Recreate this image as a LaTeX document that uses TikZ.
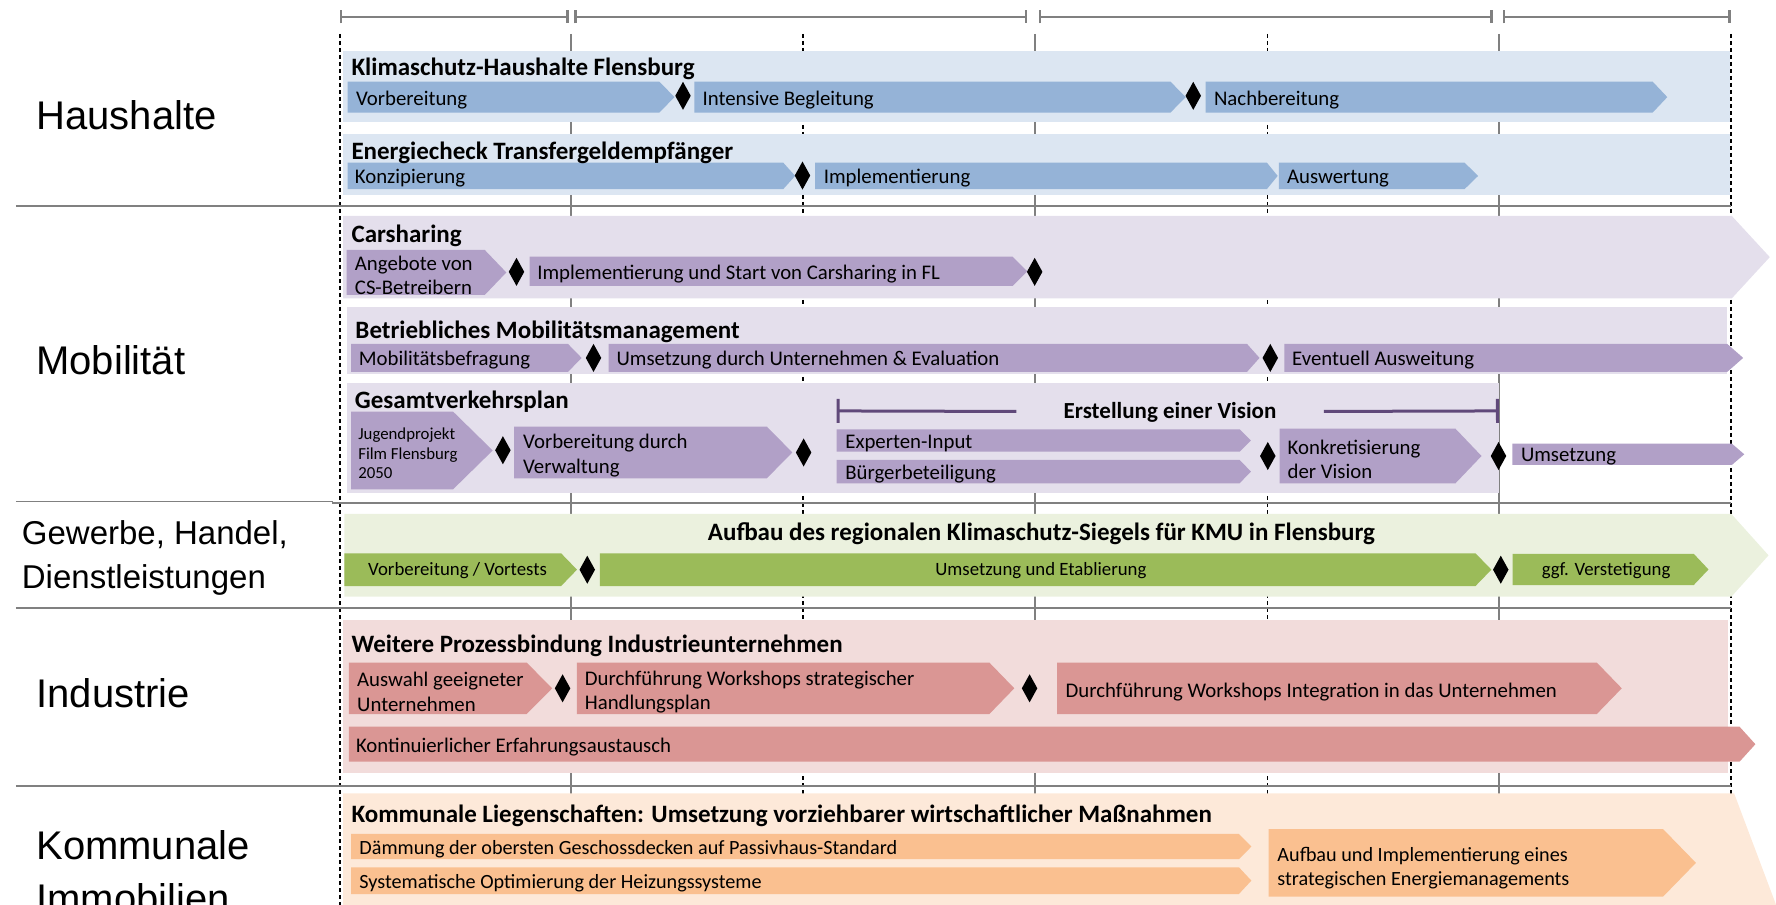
\documentclass[tikz,border=0pt]{standalone}
\usepackage{fontspec}
\setmainfont{Carlito}
\newfontfamily\labelfont{Liberation Sans}
\usetikzlibrary{
    arrows.meta,
    shapes.geometric
}
\definecolor{hhback}{HTML}{DCE6F2}
\definecolor{hhbar}{HTML}{95B3D7}
\definecolor{mobback}{HTML}{E4DFEC}
\definecolor{mobbar}{HTML}{B1A0C7}
\definecolor{mobline}{HTML}{60497A}
\definecolor{gewback}{HTML}{EBF1DE}
\definecolor{gewbar}{HTML}{9BBB59}
\definecolor{indback}{HTML}{F2DCDB}
\definecolor{indbar}{HTML}{DA9694}
\definecolor{komback}{HTML}{FDE9D9}
\definecolor{kombar}{HTML}{FAC090}
\definecolor{gridgray}{HTML}{808080}
\tikzset{
    % Lines
    grid line/.style={gridgray, line width=1pt},
    grid dash/.style={black, line width=0.9pt, dash pattern=on 2.2pt off 1.3pt},
    separator/.style={gridgray, line width=1.1pt},
    ruler/.style={gridgray, line width=1.2pt, {Bar[width=6.5pt]}-{Bar[width=6.5pt]}},
    vision line/.style={mobline, line width=1.5pt},
    %
    % Nodes
    sector/.style={font=\labelfont\fontsize{20}{26.8}\selectfont, inner sep=0pt, align=left},
    band title/.style={font=\bfseries\fontsize{12.5}{15}\selectfont, anchor=west, inner sep=0pt, yshift=-1.1pt},
    bar text/.style={font=\fontsize{10.4}{12.2}\selectfont, anchor=west, inner sep=0pt, align=left, yshift=-1.3pt},
    small text/.style={bar text, font=\fontsize{8.4}{9.9}\selectfont},
    green text/.style={bar text, anchor=center, font=\fontsize{9.4}{11}\selectfont, yshift=0.7pt},
    milestone/.style={diamond, fill=black, inner sep=0pt, minimum width=7.9pt, minimum height=14.2pt}
}
% colour, left x, tip x, top y, bottom y, tip depth
\newcommand\chevbar[6]{\fill[#1] (#2,#4) -- ({#3-#6},#4) -- (#3,{(#4+#5)/2}) -- ({#3-#6},#5) -- (#2,#5) -- cycle;}

\begin{document}
\begin{tikzpicture}[x=0.5663pt, y=-0.5663pt]
    \useasboundingbox (0,0) rectangle (1568,799);
    % time axis and grid
    \foreach \a/\b in {300/502,507/907,917/1318,1327/1528}
        \draw[ruler] (\a,15) -- (\b,15);
    \foreach \x in {504,914,1323}
        \draw[grid line] (\x,30) -- (\x,799);
    \foreach \x in {300,709,1119,1528}
        \draw[grid dash] (\x,30) -- (\x,799);
    \foreach \y in {182,537,693.6}
        \draw[separator] (14,\y) -- (1528,\y);
    \draw[gridgray, line width=0.7pt] (14,443) -- (294,443);
    \draw[separator] (293,443.8) -- (1528,443.8);

    % sectors
    \node[sector, anchor=base west] (haushalte) at (31.8,114.2) {Haushalte};
    \node[sector, anchor=base west] (mobil) at (31.8,330.5) {Mobilität};
    \node[sector, anchor=west, font=\labelfont\fontsize{16.5}{21.6}\selectfont] (gewerbe) at (19,492.7) {Gewerbe, Handel,\\Dienstleistungen};
    \node[sector, anchor=base west] (industrie) at (31.8,624.8) {Industrie};
    \node[sector, anchor=west] (kommunal) at (31.8,769.6) {Kommunale\\Immobilien};

    % Haushalte
    \fill[hhback] (303,45) rectangle (1527,108);
    \fill[hhback] (303,118) rectangle (1527,172.5);
    \chevbar{hhbar}{307}{595.5}{72}{99.5}{13.5}
    \chevbar{hhbar}{613}{1046.8}{72}{99.5}{13.5}
    \chevbar{hhbar}{1064.5}{1472}{72}{99.5}{13}
    \chevbar{hhbar}{307}{702}{143.6}{167}{10.5}
    \chevbar{hhbar}{719.7}{1128}{143.6}{167}{9.5}
    \chevbar{hhbar}{1129}{1305}{143.6}{167}{12}
    \node[band title] (hh-t1) at (310,59) {Klimaschutz-Haushalte Flensburg};
    \node[bar text] (hh-vorb) at (314,85.7) {Vorbereitung};
    \node[bar text] (hh-begl) at (620,85.7) {Intensive Begleitung};
    \node[bar text] (hh-nach) at (1071.5,85.7) {Nachbereitung};
    \node[milestone] (hh-m1) at (603,84.6) {};
    \node[milestone] (hh-m2) at (1053.5,84.6) {};
    \node[band title] (hh-t2) at (310,133) {Energiecheck Transfergeldempfänger};
    \node[bar text] (hh-konz) at (313,155.3) {Konzipierung};
    \node[bar text] (hh-impl) at (727,155.3) {Implementierung};
    \node[bar text] (hh-ausw) at (1136,155.3) {Auswertung};
    \node[milestone] (hh-m3) at (708.5,155) {};

    % Mobilitaet
    \fill[mobback] (303,190.7) -- (1529,190.7) -- (1562.5,227) -- (1529,263.4) -- (303,263.4) -- cycle;
    \fill[mobback] (306,271.3) rectangle (1524.5,330);
    \fill[mobback] (306,337.8) rectangle (1323.4,435);
    \chevbar{mobbar}{306}{447}{220.7}{260.4}{19}
    \chevbar{mobbar}{467.5}{907}{226.6}{252.5}{13}
    \chevbar{mobbar}{310}{513.5}{303.7}{328.3}{12}
    \chevbar{mobbar}{537.4}{1112}{303.7}{328.3}{11}
    \chevbar{mobbar}{1134}{1539}{303.7}{328.3}{14}
    \chevbar{mobbar}{310}{435}{363.4}{432}{35}
    \chevbar{mobbar}{454}{699.5}{376.6}{422.3}{22.5}
    \chevbar{mobbar}{738.7}{1104.4}{379}{398.8}{10}
    \chevbar{mobbar}{738.7}{1104.4}{406}{426.7}{10}
    \chevbar{mobbar}{1129.8}{1308}{378.5}{426.7}{23}
    \chevbar{mobbar}{1335.3}{1540}{391.7}{410.5}{11}
    \node[band title] (cs-t) at (310,206) {Carsharing};
    \node[bar text] (cs-ang) at (313,241) {Angebote von\\CS-Betreibern};
    \node[bar text] (cs-impl) at (474,239.5) {Implementierung und Start von Carsharing in FL};
    \node[milestone] (cs-m1) at (456,240) {};
    \node[milestone] (cs-m2) at (913.5,240) {};
    \node[band title] (bm-t) at (313.5,291.4) {Betriebliches Mobilitätsmanagement};
    \node[bar text] (bm-bef) at (316.5,316) {Mobilitätsbefragung};
    \node[bar text] (bm-ums) at (544,316) {Umsetzung durch Unternehmen \& Evaluation};
    \node[bar text] (bm-ausw) at (1140.5,316) {Eventuell Ausweitung};
    \node[milestone] (bm-m1) at (524,316) {};
    \node[milestone] (bm-m2) at (1121.5,316) {};
    \node[band title] (gv-t) at (313,353) {Gesamtverkehrsplan};
    \node[small text] (gv-jug) at (316,398) {Jugendprojekt\\Film Flensburg\\2050};
    \node[bar text] (gv-vorb) at (461.5,400) {Vorbereitung durch\\Verwaltung};
    \node[bar text] (gv-exp) at (746,389) {Experten-Input};
    \node[bar text] (gv-buerg) at (746,416.3) {Bürgerbeteiligung};
    \node[bar text] (gv-konk) at (1136.5,403.3) {Konkretisierung\\der Vision};
    \node[bar text] (gv-ums) at (1342.5,401) {Umsetzung};
    \node[milestone] (gv-m1) at (444,397.5) {};
    \node[milestone] (gv-m2) at (709.5,399.5) {};
    \node[milestone] (gv-m3) at (1119.3,402.6) {};
    \node[milestone] (gv-m4) at (1323,402.6) {};
    \coordinate (vis-l) at (738.7,362.8);
    \coordinate (vis-r) at (1323.4,362.8);
    \node[band title, font=\bfseries\fontsize{11.5}{14}\selectfont, anchor=center, inner xsep=23.5pt, yshift=0.6pt] (vision) at (1033,362.8) {Erstellung einer Vision};
    \draw[vision line, {Bar[width=12pt]}-] (vis-l) -- (vision);
    \draw[vision line, -{Bar[width=12pt]}] (vision) -- (vis-r);

    % Gewerbe, Handel, Dienstleistungen
    \fill[gewback] (304,453.8) -- (1528.6,453.8) -- (1561.4,490.3) -- (1528.6,526.8) -- (304,526.8) -- cycle;
    \chevbar{gewbar}{304}{509.4}{488.5}{517.4}{14}
    \chevbar{gewbar}{529.7}{1316.7}{488.5}{517.4}{14}
    \chevbar{gewbar}{1335.4}{1508.4}{489}{516.5}{13}
    \node[band title, anchor=center] (gw-t) at (919.5,469.4) {Aufbau des regionalen Klimaschutz-Siegels für KMU in Flensburg};
    \node[green text] (gw-vorb) at (404,503) {Vorbereitung / Vortests};
    \node[green text] (gw-ums) at (919,503) {Umsetzung und Etablierung};
    \node[green text] (gw-vers) at (1418,503) {ggf. Verstetigung};
    \node[milestone] (gw-m1) at (518.5,503) {};
    \node[milestone] (gw-m2) at (1325,503) {};

    % Industrie
    \fill[indback] (303,547.4) rectangle (1526,682.7);
    \chevbar{indbar}{308}{487.5}{585}{630.4}{22.5}
    \chevbar{indbar}{509.4}{895.5}{585}{630.4}{22}
    \chevbar{indbar}{933.3}{1431.8}{585}{630.4}{22}
    \chevbar{indbar}{308}{1549.8}{641.6}{672.5}{14}
    \node[band title] (in-t) at (310,568) {Weitere Prozessbindung Industrieunternehmen};
    \node[bar text] (in-ausw) at (315,608.7) {Auswahl geeigneter\\Unternehmen};
    \node[bar text] (in-ws1) at (516,608.7) {Durchführung Workshops strategischer\\Handlungsplan};
    \node[bar text] (in-ws2) at (940.5,608.7) {Durchführung Workshops Integration in das Unternehmen};
    \node[bar text] (in-kont) at (314,657) {Kontinuierlicher Erfahrungsaustausch};
    \node[milestone] (in-m1) at (496.7,607.7) {};
    \node[milestone] (in-m2) at (909,607.7) {};

    % Kommunale Immobilien
    \fill[komback] (303,700.4) -- (1531,700.4) -- (1576,820) -- (303,820) -- cycle;
    \chevbar{kombar}{310}{1104.8}{736.3}{758.6}{11}
    \chevbar{kombar}{310}{1104.8}{765.7}{789.3}{11}
    \chevbar{kombar}{1120}{1497.3}{732}{791.6}{29}
    \node[band title] (ki-t) at (310,718) {Kommunale Liegenschaften: Umsetzung vorziehbarer wirtschaftlicher Maßnahmen};
    \node[bar text, font=\fontsize{10.1}{12}\selectfont] (ki-daem) at (317,747.5) {Dämmung der obersten Geschossdecken auf Passivhaus-Standard};
    \node[bar text, font=\fontsize{10.1}{12}\selectfont] (ki-heiz) at (317,777.5) {Systematische Optimierung der Heizungssysteme};
    \node[bar text, font=\fontsize{10.1}{12}\selectfont] (ki-auf) at (1127.5,764) {Aufbau und Implementierung eines\\strategischen Energiemanagements};
\end{tikzpicture}
\end{document}
